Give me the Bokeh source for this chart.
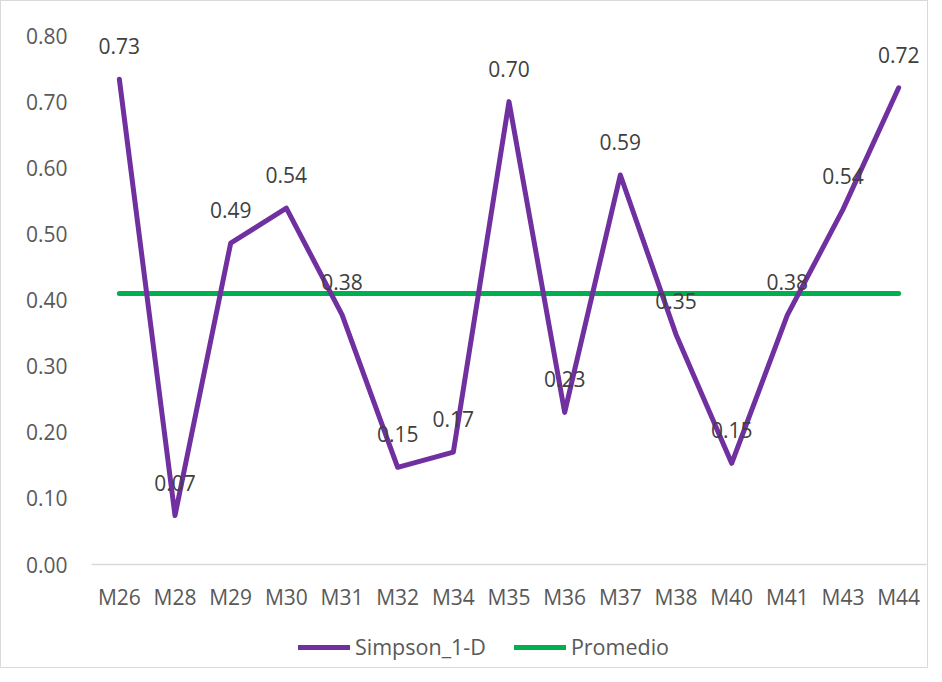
from bokeh.plotting import figure
from bokeh.layouts import column
from bokeh.models import ColumnDataSource, FactorRange, Range1d, FixedTicker, PrintfTickFormatter, Legend, LegendItem
from bokeh.core.properties import value
from bokeh.embed import file_html
from bokeh.resources import INLINE

categories = ["M26", "M28", "M29", "M30", "M31", "M32", "M34", "M35", "M36", "M37", "M38", "M40", "M41", "M43", "M44"]
simpson = [0.734, 0.074, 0.486, 0.539, 0.378, 0.147, 0.170, 0.700, 0.230, 0.589, 0.348, 0.153, 0.377, 0.537, 0.721]
promedio = [0.41, 0.41, 0.41, 0.41, 0.41, 0.41, 0.41, 0.41, 0.41, 0.41, 0.41, 0.41, 0.41, 0.41, 0.41]
y_ticks = [0.0, 0.1, 0.2, 0.3, 0.4, 0.5, 0.6, 0.7, 0.8]

FONT = "Open Sans"
FS = "21px"
PURPLE = "#7030A0"
GREEN = "#00B050"

src = ColumnDataSource(dict(
    cat=categories,
    simpson=simpson,
    promedio=promedio,
    label=["%.2f" % v for v in simpson],
))

p = figure(
    width=926, height=619,
    x_range=FactorRange(*categories, range_padding=0),
    y_range=Range1d(0, 0.8),
    output_backend="svg", toolbar_location=None,
    min_border_left=90, min_border_right=1, min_border_top=34, min_border_bottom=56,
)
p.outline_line_color = None
p.xgrid.grid_line_color = None
p.ygrid.grid_line_color = None

# axes
p.yaxis.ticker = FixedTicker(ticks=y_ticks)
p.yaxis.formatter = PrintfTickFormatter(format="%.2f")
p.yaxis.axis_line_color = None
p.yaxis.major_tick_line_color = None
p.yaxis.minor_tick_line_color = None
p.yaxis.major_label_standoff = 18
p.yaxis.major_label_text_font = FONT
p.yaxis.major_label_text_font_size = FS
p.yaxis.major_label_text_color = "#595959"

p.xaxis.axis_line_color = "#d9d9d9"
p.xaxis.axis_line_width = 1.5
p.xaxis.major_tick_line_color = None
p.xaxis.minor_tick_line_color = None
p.xaxis.major_label_standoff = 12
p.xaxis.major_label_text_font = FONT
p.xaxis.major_label_text_font_size = FS
p.xaxis.major_label_text_color = "#595959"

p.line("cat", "promedio", source=src, line_color=GREEN, line_width=5, line_cap="round")
p.line("cat", "simpson", source=src, line_color=PURPLE, line_width=5, line_cap="round", line_join="round")

p.text("cat", "simpson", text="label", source=src, text_align="center", text_baseline="middle",
       y_offset=-33, text_font=value(FONT), text_font_size=FS, text_color="#404040")

# legend strip (same series, drawn out of view so only the legend shows)
p2 = figure(
    width=926, height=47,
    x_range=p.x_range, y_range=Range1d(10, 11),
    output_backend="svg", toolbar_location=None,
    x_axis_location=None, y_axis_location=None,
    min_border_left=0, min_border_right=0, min_border_top=0, min_border_bottom=0,
)
p2.outline_line_color = None
p2.xgrid.grid_line_color = None
p2.ygrid.grid_line_color = None
l_avg = p2.line("cat", "promedio", source=src, line_color=GREEN, line_width=5, line_cap="round")
l_sim = p2.line("cat", "simpson", source=src, line_color=PURPLE, line_width=5, line_cap="round")

legend = Legend(
    items=[LegendItem(label="Simpson_1-D", renderers=[l_sim]), LegendItem(label="Promedio", renderers=[l_avg])],
    orientation="horizontal",
    location=(207, 6),
    padding=0, margin=0, spacing=28,
    glyph_width=52, glyph_height=20, label_standoff=5,
    label_text_font=FONT, label_text_font_size="21.5px", label_text_color="#595959",
    border_line_color=None, background_fill_alpha=0,
)
p2.add_layout(legend, "center")

layout = column(p, p2, spacing=0)
layout.styles = {"border": "1px solid #d9d9d9"}

open("out.html", "w").write(file_html(layout, INLINE))
